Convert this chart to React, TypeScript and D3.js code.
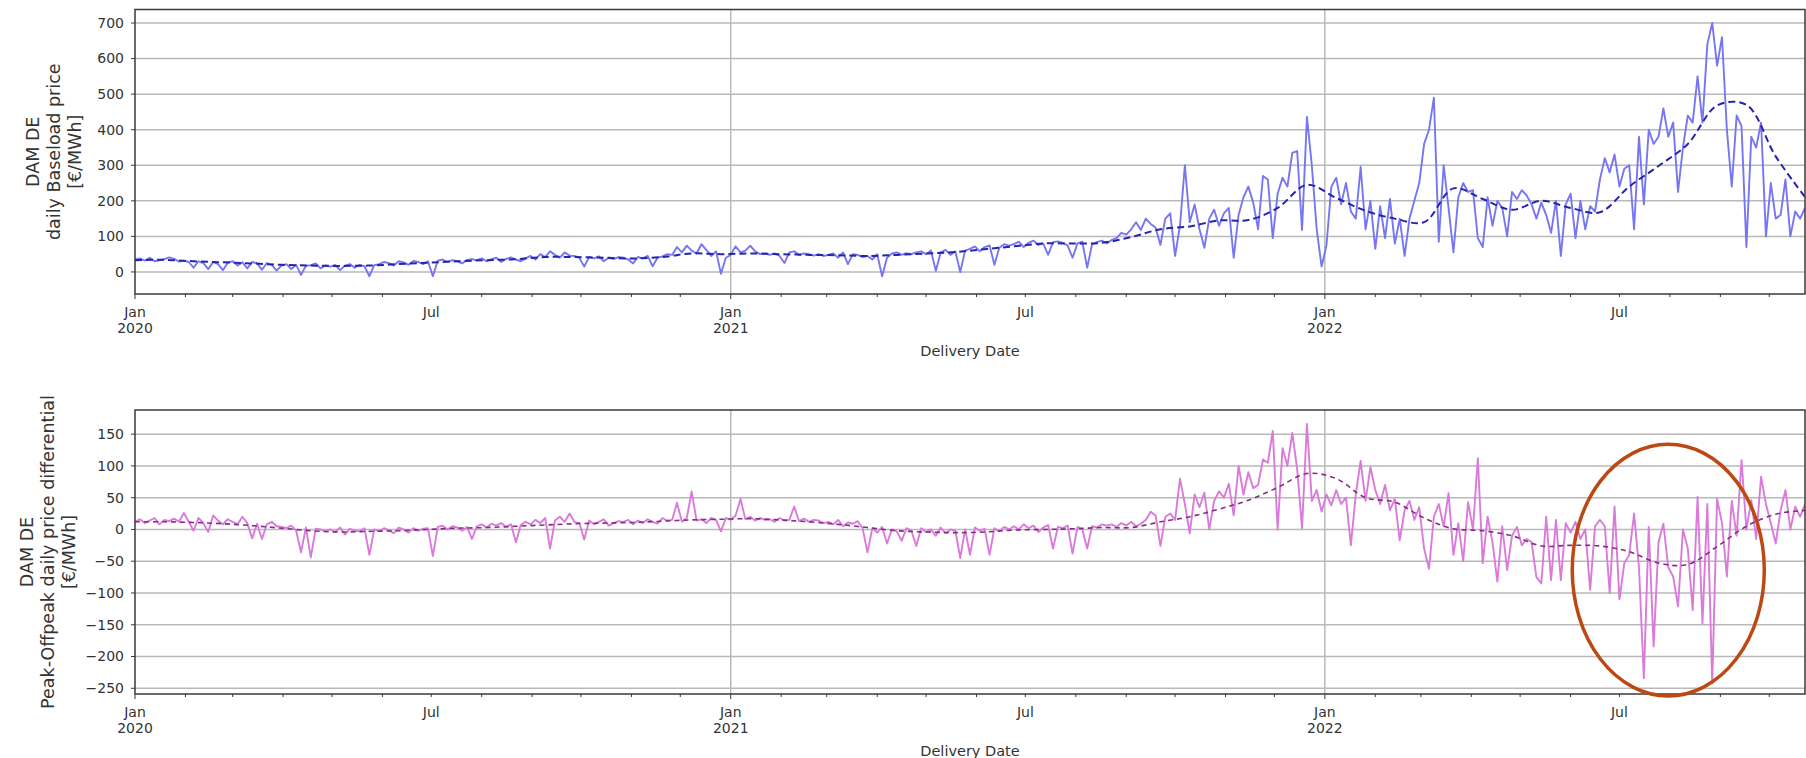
import React, { useEffect, useRef } from "react"
import * as d3 from "d3"

const START = Date.UTC(2020, 0, 1)
const DAY = 86400000
const RAW_STEP = 3 // days between raw samples
const MEAN_STEP = 18 // days between rolling mean samples
const END_DAY = 1026

// DAM DE daily baseload price, one sample every 3 days from 2020-01-01
const baseload = [
  35, 38, 32, 40, 30, 33, 36, 41, 37, 29,
  32, 28, 12, 30, 25, 8, 28, 22, 5, 26,
  30, 18, 27, 10, 28, 24, 6, 25, 20, 4,
  18, 22, 8, 20, -8, 17, 19, 24, 10, 18,
  15, 20, 5, 18, 22, 12, 20, 16, -12, 19,
  22, 28, 25, 18, 30, 27, 20, 31, 28, 22,
  30, -12, 32, 35, 28, 33, 30, 24, 34, 36,
  33, 38, 30, 36, 40, 28, 37, 41, 35, 30,
  38, 45, 35, 50, 42, 58, 48, 40, 55, 46,
  45, 40, 15, 42, 38, 44, 30, 40, 36, 42,
  40, 35, 24, 42, 38, 45, 16, 40, 44, 50,
  48, 70, 55, 74, 60, 52, 78, 62, 45, 58,
  -5, 40, 48, 72, 55, 60, 74, 58, 50, 52,
  48, 52, 45, 25, 55, 58, 48, 52, 50, 46,
  50, 45, 48, 52, 40, 55, 22, 50, 48, 42,
  45, 35, 50, -12, 40, 52, 55, 48, 53, 50,
  55, 58, 50, 60, 3, 55, 62, 48, 58, 0,
  60, 65, 72, 58, 70, 75, 20, 68, 78, 74,
  78, 85, 70, 82, 88, 76, 80, 48, 84, 86,
  82, 74, 40, 80, 85, 12, 78, 84, 88, 80,
  90, 95, 110, 105, 120, 140, 118, 150, 135, 125,
  76, 150, 165, 45, 130, 300, 140, 190, 120, 68,
  150, 175, 130, 165, 180, 40, 160, 210, 240, 195,
  120, 270, 260, 95, 220, 265, 240, 335, 340, 118,
  436, 300, 120, 15, 75, 240, 265, 190, 250, 170,
  150, 295, 120, 200, 65, 185, 95, 205, 80, 150,
  45, 150, 200, 250, 360, 400, 490, 85, 300, 180,
  55, 210, 250, 225, 230, 95, 70, 210, 130, 200,
  180, 100, 225, 205, 230, 215, 190, 150, 195, 160,
  110, 200, 45, 190, 220, 95, 200, 120, 185, 170,
  260, 320, 280, 330, 240, 290, 300, 120, 380, 190,
  400, 360, 380, 460, 380, 420, 225, 350, 440, 420,
  550, 420, 640, 700, 580, 660, 400, 240, 440, 410,
  70, 380, 350, 420, 100, 250, 150, 160, 260, 100,
  170, 150, 180,
]

// rolling mean of the baseload price, one sample every 18 days
const baseloadMean = [
  33, 34, 30, 27, 24, 20, 18, 17, 18, 22,
  26, 30, 33, 36, 42, 42, 40, 38, 42, 52,
  50, 52, 50, 48, 47, 45, 48, 52, 56, 64,
  72, 80, 80, 82, 98, 120, 128, 145, 146, 180,
  245, 208, 172, 150, 140, 235, 205, 175, 200, 180,
  168, 240, 298, 360, 468, 470, 325, 211,
]

// peak - offpeak daily price differential, one sample every 3 days
const spread = [
  12, 16, 10, 14, 18, 8, 15, 13, 17, 12,
  26, 12, -2, 18, 10, -4, 22, 14, 8, 16,
  12, 8, 20, 10, -14, 9, -15, 8, 12, 5,
  4, 2, 6, -2, -36, 3, -44, 1, 0, -3,
  0, -4, 3, -8, 1, -2, -3, 2, -40, 0,
  -3, 2, -1, -6, 3, 0, -5, 2, -2, 1,
  2, -42, 4, 6, 0, 5, 3, -2, 4, -15,
  5, 8, 3, 9, 6, 10, 4, 8, -20, 7,
  12, 8, 15, 10, 18, -30, 14, 20, 12, 25,
  12, 10, -16, 14, 8, 12, 16, 6, 10, 13,
  12, 15, 8, 14, 10, 16, 12, 9, 18, 14,
  15, 42, 12, 18, 60, 14, 16, 10, 18, 15,
  -3, 18, 15, 22, 48, 16, 20, 14, 18, 15,
  16, 12, 18, 14, 15, 36, 13, 17, 12, 15,
  14, 10, 12, 8, 15, 5, 11, 9, 13, 2,
  -36, 2, -5, 4, -22, 0, -3, -18, 2, -2,
  -26, 2, -4, 0, -10, 3, -6, 0, -2, -45,
  0, -40, 3, -2, 1, -40, 2, -3, 4, 0,
  5, 0, 8, 2, 6, -4, 3, 7, -30, 4,
  2, 6, -38, 4, 0, -30, 5, 3, 8, 6,
  8, 4, 10, 6, 12, 5, 9, 15, 28, 22,
  -26, 20, 25, 15, 80, 40, -6, 55, 35, 58,
  0, 45, 60, 50, 72, 22, 100, 55, 90, 65,
  70, 110, 105, 155, 0, 128, 100, 152, 95, 2,
  166, 45, 62, 28, 55, 38, 62, 40, 50, -25,
  55, 108, 45, 98, 62, 40, 70, 30, 48, -17,
  30, 45, 15, 35, -30, -62, 20, 40, 5, 57,
  -40, 10, -50, 43, 0, 112, -53, 20, -20, -82,
  5, -64, -10, 4, -25, -15, -20, -75, -85, 20,
  -80, 15, -80, 10, -5, 12, -15, 0, -95, 5,
  15, 5, -100, 36, -110, -53, -40, 25, -60, -234,
  4, -184, -20, 9, -60, -74, -121, 0, -30, -127,
  51, -148, 40, -242, 48, 10, -74, 45, -10, 109,
  0, 46, -15, 83, 40, 10, -22, 30, 62, 0,
  36, 20, 40,
]

// rolling mean of the differential, one sample every 18 days
const spreadMean = [
  12, 12, 11, 9, 6, 2, -2, -4, -3, -2,
  0, 2, 3, 5, 7, 9, 10, 11, 13, 15,
  16, 17, 15, 12, 8, 3, -2, -4, -5, -4,
  -1, 0, 1, 3, 3, 12, 20, 32, 46, 66,
  88, 80, 50, 43, 18, 1, -2, -10, -26, -25,
  -26, -35, -53, -55, -27, 5, 24, 30,
]

const baseTicks = [0, 100, 200, 300, 400, 500, 600, 700]
const spreadTicks = [150, 100, 50, 0, -50, -100, -150, -200, -250]
const baseLabel = ["DAM DE", "daily Baseload price", "[€/MWh]"]
const spreadLabel = ["DAM DE", "Peak-Offpeak daily price differential", "[€/MWh]"]
const xLabel = "Delivery Date"

// highlighted region in the lower chart (centre date, centre value)
const highlight = { date: Date.UTC(2022, 6, 31), value: -64, days: 59, span: 198 }

const FONT = "DejaVu Sans, sans-serif"
const TXT = "#333"

export default function App() {
  const ref = useRef<SVGSVGElement>(null)

  useEffect(() => {
    const svg = d3.select(ref.current)
    svg.selectAll("*").remove()

    const x = d3.scaleUtc()
      .domain([new Date(START), new Date(START + END_DAY * DAY)])
      .range([135, 1805])

    const fmt = (d: number) => (d < 0 ? "\u2212" + Math.abs(d) : String(d))

    function panel(o: any) {
      const y = d3.scaleLinear().domain(o.domain).range([o.bottom, o.top])
      const g = svg.append("g")
      const [x0, x1] = x.range()

      const clipId = "clip" + o.id
      svg.append("clipPath").attr("id", clipId)
        .append("rect").attr("x", x0).attr("y", o.top).attr("width", x1 - x0).attr("height", o.bottom - o.top)

      // grid
      g.selectAll(".hg").data(o.ticks).join("line")
        .attr("x1", x0).attr("x2", x1)
        .attr("y1", (d: number) => y(d)).attr("y2", (d: number) => y(d))
        .attr("stroke", "#b9b9b9").attr("stroke-width", 1.5)
      const years = d3.utcYear.range(new Date(START + DAY), x.domain()[1])
      g.selectAll(".vg").data(years).join("line")
        .attr("x1", (d: Date) => x(d)).attr("x2", (d: Date) => x(d))
        .attr("y1", o.top).attr("y2", o.bottom)
        .attr("stroke", "#b9b9b9").attr("stroke-width", 1.5)

      const rawPts = o.raw.map((v: number, i: number) => [new Date(START + i * RAW_STEP * DAY), v])
      const meanPts = o.mean.map((v: number, i: number) => [new Date(START + Math.min(i * MEAN_STEP, END_DAY) * DAY), v])

      const line = d3.line<any>().x(d => x(d[0])).y(d => y(d[1]))
      const smooth = d3.line<any>().x(d => x(d[0])).y(d => y(d[1])).curve(d3.curveCatmullRom.alpha(0.5))

      const lg = g.append("g").attr("clip-path", `url(#${clipId})`)
      lg.append("path").attr("d", line(rawPts)).attr("fill", "none")
        .attr("stroke", o.rawColor).attr("stroke-width", 1.9).attr("stroke-linejoin", "round")
      lg.append("path").attr("d", smooth(meanPts)).attr("fill", "none")
        .attr("stroke", o.meanColor).attr("stroke-width", o.meanWidth).attr("stroke-dasharray", o.dash)

      // frame
      g.append("rect").attr("x", x0).attr("y", o.top).attr("width", x1 - x0).attr("height", o.bottom - o.top)
        .attr("fill", "none").attr("stroke", "#3a3a3a").attr("stroke-width", 1.5)

      // y ticks
      g.selectAll(".yt").data(o.ticks).join("line")
        .attr("x1", x0 - 4).attr("x2", x0).attr("y1", (d: number) => y(d)).attr("y2", (d: number) => y(d))
        .attr("stroke", "#3a3a3a").attr("stroke-width", 1)
      g.selectAll(".yl").data(o.ticks).join("text")
        .attr("x", x0 - 11).attr("y", (d: number) => y(d)).attr("dy", "0.35em")
        .attr("text-anchor", "end").attr("font-family", FONT).attr("font-size", 14).attr("fill", TXT)
        .text((d: number) => fmt(d))

      // x ticks: months minor, Jan / Jul labelled
      const months = d3.utcMonth.range(x.domain()[0], x.domain()[1])
      g.selectAll(".xt").data(months).join("line")
        .attr("x1", (d: Date) => x(d)).attr("x2", (d: Date) => x(d))
        .attr("y1", o.bottom).attr("y2", (d: Date) => o.bottom + (d.getUTCMonth() === 0 ? 5 : 3))
        .attr("stroke", "#3a3a3a").attr("stroke-width", 1)
      const labelled = months.filter((d: Date) => d.getUTCMonth() === 0 || d.getUTCMonth() === 6)
      const tl = g.selectAll(".xl").data(labelled).join("text")
        .attr("x", (d: Date) => x(d)).attr("y", o.bottom + 18).attr("dy", "0.35em")
        .attr("text-anchor", "middle").attr("font-family", FONT).attr("font-size", 14).attr("fill", TXT)
      tl.append("tspan").text((d: Date) => (d.getUTCMonth() === 0 ? "Jan" : "Jul"))
      tl.filter((d: Date) => d.getUTCMonth() === 0).append("tspan")
        .attr("x", (d: Date) => x(d)).attr("dy", 16.5).text((d: Date) => String(d.getUTCFullYear()))

      g.append("text").attr("x", (x0 + x1) / 2).attr("y", o.bottom + 57).attr("dy", "0.35em")
        .attr("text-anchor", "middle").attr("font-family", FONT).attr("font-size", 14.5).attr("fill", TXT)
        .text(xLabel)

      // y label
      const cy = (o.top + o.bottom) / 2
      o.label.forEach((t: string, i: number) => {
        g.append("text").attr("transform", `translate(${o.labelX + i * 20.8},${cy}) rotate(-90)`)
          .attr("dy", "0.35em").attr("text-anchor", "middle")
          .attr("font-family", FONT).attr("font-size", 17.5).attr("fill", TXT).text(t)
      })
      return y
    }

    panel({
      id: "a", top: 9.5, bottom: 294, domain: [-62, 738], ticks: baseTicks,
      raw: baseload, mean: baseloadMean, rawColor: "#7676f4", meanColor: "#2424ac",
      meanWidth: 2, dash: "7,4", label: baseLabel, labelX: 33,
    })
    const y2 = panel({
      id: "b", top: 410, bottom: 694, domain: [-259, 188], ticks: spreadTicks,
      raw: spread, mean: spreadMean, rawColor: "#da7ada", meanColor: "#862c86",
      meanWidth: 1.6, dash: "5,4", label: spreadLabel, labelX: 27,
    })

    // annotation ellipse
    const cx = x(new Date(highlight.date))
    const cyy = y2(highlight.value)
    svg.append("ellipse")
      .attr("cx", cx).attr("cy", cyy)
      .attr("rx", x(new Date(highlight.date + highlight.days * DAY)) - cx)
      .attr("ry", y2(highlight.value - highlight.span) - cyy)
      .attr("fill", "none").attr("stroke", "#bc4812").attr("stroke-width", 3.5)
  }, [])

  return (
    <svg ref={ref} width={1806} height={758}
      style={{ position: "absolute", left: 0, top: 0, background: "#fff" }} />
  )
}
